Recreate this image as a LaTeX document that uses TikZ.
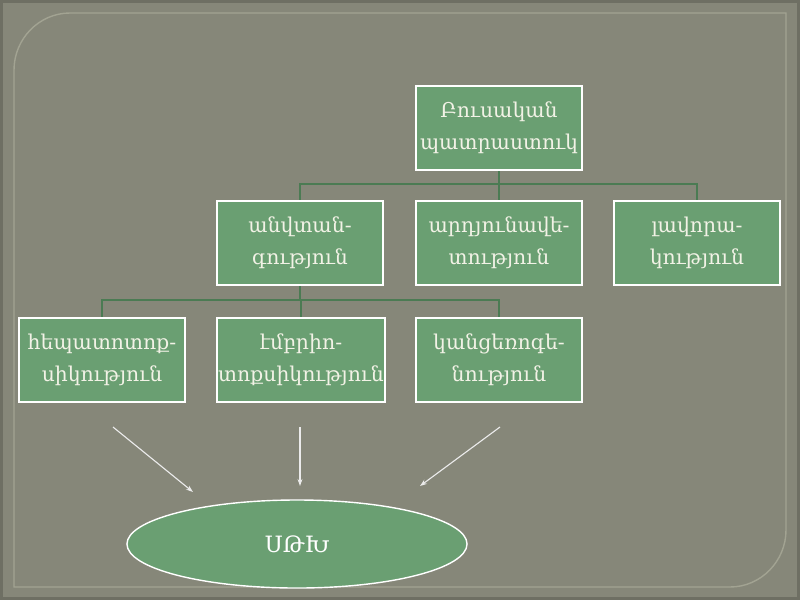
\documentclass[tikz,border=0pt]{standalone}
\usepackage{fontspec}
\setmainfont{DejaVu Serif}
\usetikzlibrary{arrows.meta,shapes.geometric}
\definecolor{slidebg}{HTML}{868779}
\definecolor{slideedge}{HTML}{6E6F63}
\definecolor{frameline}{HTML}{A2A392}
\definecolor{boxgreen}{HTML}{6A9F72}
\definecolor{linkgreen}{HTML}{4B7B53}
\definecolor{textcream}{HTML}{F2F2E6}
\tikzset{
  block/.style={draw=white, line width=1.4pt, fill=boxgreen, text=textcream,
    minimum width=4.15cm, minimum height=2.1cm, align=center, inner xsep=1pt,
    font=\fontsize{14.5}{23}\selectfont},
  link/.style={linkgreen, line width=1.5pt},
  pointer/.style={-{Stealth[length=5pt,width=3.5pt]}, black!8, line width=0.8pt}
}
\begin{document}
\begin{tikzpicture}[x=0.025cm, y=-0.025cm]
  \useasboundingbox (0,0) rectangle (800,600);
  \fill[slideedge] (0,0) rectangle (800,600);
  \fill[slidebg] (3,3) rectangle (797,597);
  \draw[frameline, line width=1pt] (14,587) -- (14,70) .. controls (14,39) and (39,13) .. (70,13)
    -- (786,13) -- (786,530) .. controls (786,561) and (761,587) .. (730,587) -- cycle;

  \node[block] (prep) at (499,128) {Բուսական\\պատրաստուկ};
  \node[block] (safe) at (300,243) {անվտան-\\գություն};
  \node[block] (effic) at (499,243) {արդյունավե-\\տություն};
  \node[block] (qual) at (697,243) {լավորա-\\կություն};
  \node[block] (hepat) at (102,360) {հեպատոտոք-\\սիկություն};
  \node[block] (embryo) at (301,360) {էմբրիո-\\տոքսիկություն};
  \node[block] (carcin) at (499,360) {կանցեռոգե-\\նություն};
  \node[ellipse, draw=white, line width=1pt, fill=boxgreen, text=white,
    minimum width=8.5cm, minimum height=2.2cm,
    font=\fontsize{16}{20}\selectfont] (sth) at (297,544) {ՍԹԽ};

  \coordinate (bus1) at (499,184);
  \coordinate (bus2) at (300,300);
  \draw[link] (prep.south) -- (bus1) -| (safe.north);
  \draw[link] (bus1) -- (effic.north);
  \draw[link] (bus1) -| (qual.north);
  \draw[link] (safe.south) -- (bus2) -| (hepat.north);
  \draw[link] (bus2) -| (embryo.north);
  \draw[link] (bus2) -| (carcin.north);

  \coordinate (t1) at (113,427);
  \coordinate (t2) at (300,427);
  \coordinate (t3) at (500,427);
  \coordinate (h1) at (193,492);
  \coordinate (h2) at (300,486);
  \coordinate (h3) at (420,486);
  \draw[pointer] (t1) -- (h1);
  \draw[pointer] (t2) -- (h2);
  \draw[pointer] (t3) -- (h3);
\end{tikzpicture}
\end{document}
